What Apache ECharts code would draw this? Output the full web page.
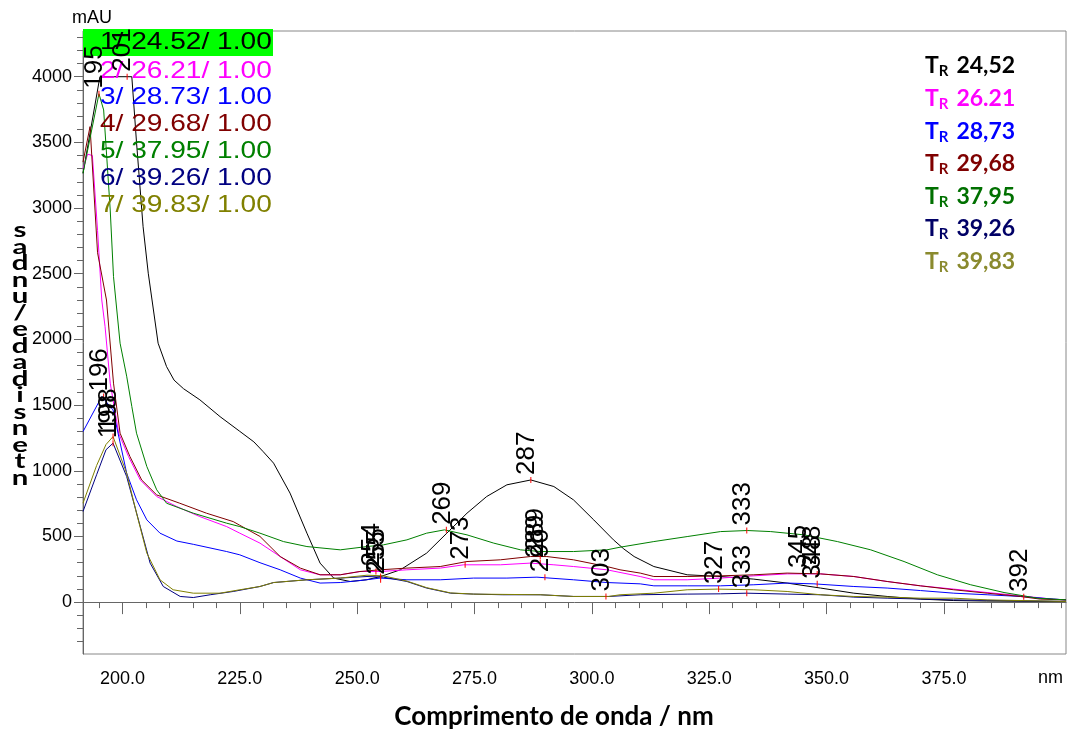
<!DOCTYPE html>
<html>
<head>
<meta charset="utf-8">
<script src="https://cdn.jsdelivr.net/npm/echarts@6/dist/echarts.min.js"></script>
<style>
  html, body { margin: 0; padding: 0; background: #fff; }
  #chart { width: 1067px; height: 729px; }
</style>
</head>
<body>
<div id="chart"></div>
<script>
// legenda e cores das corridas
const seriesNames = ['1/ 24.52/ 1.00', '2/ 26.21/ 1.00', '3/ 28.73/ 1.00', '4/ 29.68/ 1.00',
    '5/ 37.95/ 1.00', '6/ 39.26/ 1.00', '7/ 39.83/ 1.00'];
const seriesColors = ['#000000', '#ff00ff', '#0000ff', '#800000', '#008000', '#000080', '#808000'];
const retentionTimes = ['24,52', '26.21', '28,73', '29,68', '37,95', '39,26', '39,83'];
const rtColors = ['#000000', '#ff00ff', '#0000ff', '#7f0000', '#007000', '#000066', '#8a8a2e'];

const xTicks = [200, 225, 250, 275, 300, 325, 350, 375];
const xMinorTicks = [195, 200, 205, 210, 215, 220, 225, 230, 235, 240, 245, 250, 255, 260, 265, 270, 275, 280,
    285, 290, 295, 300, 305, 310, 315, 320, 325, 330, 335, 340, 345, 350, 355, 360, 365, 370, 375, 380,
    385, 390, 395, 400];
const yTicks = [0, 500, 1000, 1500, 2000, 2500, 3000, 3500, 4000];
const yMinorTicks = [-300, -200, -100, 0, 100, 200, 300, 400, 500, 600, 700, 800, 900, 1000, 1100, 1200, 1300,
    1400, 1500, 1600, 1700, 1800, 1900, 2000, 2100, 2200, 2300, 2400, 2500, 2600, 2700, 2800, 2900, 3000,
    3100, 3200, 3300, 3400, 3500, 3600, 3700, 3800, 3900, 4000, 4100, 4200, 4300];

// espectros [nm, mAU]
const spectrum1 = [[191.6, 3265], [195.2, 4000], [202, 4000], [203, 3500], [204.4, 2858], [205.5, 2504],
    [207.6, 1971], [209.4, 1793], [211, 1690], [213, 1625], [216.5, 1540], [220.8, 1412], [225, 1300],
    [228, 1220], [230, 1145], [232.2, 1058], [235.7, 830], [239.3, 525], [242.1, 297], [245, 183],
    [248.5, 157], [252, 170], [255, 195], [259.2, 246], [264.8, 373], [269.1, 525], [273.4, 677],
    [277.6, 804], [281.9, 893], [287, 930], [291.9, 880], [296.1, 778], [300.4, 626], [304.6, 474],
    [306.8, 405], [309, 347], [313.2, 271], [320.3, 208], [327.4, 195], [334.5, 175], [341.6, 145],
    [348.7, 107], [355.8, 68], [362.9, 43], [370, 23], [377, 12], [384, 8], [401, 5]];
const spectrum2 = [[191.6, 3300], [192.6, 3410], [193.6, 3400], [194.7, 2830], [195.6, 2300], [196.3, 2097],
    [197.4, 1667], [199.2, 1286], [201.3, 1108], [203.8, 930], [207.3, 804], [211.6, 727], [216.5, 651],
    [222.2, 575], [225, 525], [229.3, 449], [233.6, 347], [237.9, 246], [242.1, 208], [246.4, 208],
    [250.6, 233], [254.9, 233], [260.6, 246], [267.7, 259], [272.7, 284], [280.5, 284], [286.9, 297],
    [291.9, 284], [296.1, 271], [303.2, 246], [310.3, 195], [313.2, 170], [320.3, 170], [327.4, 183],
    [334.5, 200], [341.6, 215], [348.7, 215], [355.8, 195], [362.9, 157], [370, 124], [377.1, 99],
    [384.2, 73], [391.3, 48], [398, 23], [401, 17]];
const spectrum3 = [[191.6, 1298], [195.6, 1565], [198, 1463], [200.9, 982], [203, 779], [205.2, 626],
    [208, 525], [211.6, 465], [215.1, 440], [222.2, 385], [225, 360], [229.3, 300], [233.6, 246],
    [237.9, 183], [242.1, 145], [246.4, 149], [250.6, 164], [254.9, 183], [260.6, 170], [267.7, 170],
    [274.8, 183], [281.9, 183], [288.3, 190], [296.1, 170], [303.2, 149], [310.3, 139], [313.2, 124],
    [320.3, 124], [327.4, 124], [334.5, 132], [341.6, 145], [347.3, 139], [355.8, 119], [362.9, 107],
    [370, 88], [377.1, 68], [384.2, 56], [391.3, 43], [398.4, 23], [401, 17]];
const spectrum4 = [[191.6, 3350], [193.1, 3620], [194.7, 2660], [196.6, 2300], [198.1, 1667], [199.5, 1286],
    [201.6, 1108], [204.1, 930], [207.3, 816], [212.2, 753], [217.9, 677], [223.6, 613], [225, 585],
    [229.3, 500], [233.6, 347], [237.9, 259], [242.1, 208], [246.4, 208], [250.6, 233], [254.9, 246],
    [260.6, 259], [267.7, 271], [273.4, 309], [280.5, 322], [286.9, 347], [290.4, 347], [296.1, 322],
    [303.2, 271], [306, 246], [310.3, 221], [313.2, 195], [320.3, 195], [327.4, 200], [334.5, 208],
    [341.6, 221], [348.7, 215], [355.8, 195], [362.9, 157], [370, 124], [377.1, 94], [384.2, 68],
    [391.3, 43], [395.5, 23], [401, 17]];
const spectrum5 = [[191.6, 3265], [195, 3870], [196, 3747], [196.7, 3366], [197.4, 2985], [198.1, 2478],
    [199.5, 1971], [200.9, 1720], [202, 1489], [203, 1286], [205.2, 1032], [207.3, 855], [209.4, 753],
    [215.1, 677], [222.2, 601], [225, 575], [229.3, 525], [234.3, 461], [239.3, 423], [246.4, 398],
    [252.1, 423], [255.6, 436], [260.6, 474], [264.8, 525], [268.6, 550], [273.4, 512], [279.1, 449],
    [284.8, 398], [289, 385], [296.1, 385], [303.2, 398], [306, 418], [313.2, 461], [320.3, 499],
    [327.4, 537], [333.1, 545], [338.1, 537], [345.2, 512], [352.3, 461], [359.4, 398], [366.5, 309],
    [373.6, 208], [380.7, 132], [387.8, 73], [394.9, 30], [401, 17]];
const spectrum6 = [[191.6, 690], [194.5, 970], [196.5, 1160], [198, 1210], [200.9, 956], [203.8, 575],
    [205.9, 297], [208.7, 119], [212.3, 43], [215.1, 35], [218.7, 56], [223.6, 81], [229.3, 119],
    [232.2, 149], [239.3, 170], [246.4, 183], [252.1, 195], [255.6, 190], [260.6, 157], [264.8, 107],
    [269.9, 68], [274.8, 61], [281, 56], [289, 56], [296.1, 43], [303.6, 43], [310.3, 56], [320.3, 61],
    [327.4, 63], [333, 68], [341.6, 61], [348.7, 56], [355.8, 38], [362.9, 30], [377, 17], [401, 5]];
const spectrum7 = [[191.6, 753], [194.5, 1040], [196.5, 1200], [198, 1260], [200.9, 982], [203, 677],
    [205.2, 373], [208, 170], [210.8, 94], [215.1, 68], [220.8, 68], [225, 94], [229.3, 119], [232.2, 149],
    [239.3, 170], [246.4, 183], [252.1, 205], [255.6, 200], [260.6, 160], [264.8, 110], [269.9, 70],
    [274.8, 61], [289, 56], [296.1, 43], [303.6, 43], [306, 56], [313.2, 68], [320.3, 94], [326.8, 99],
    [334.5, 94], [341.6, 81], [348.7, 56], [355.8, 43], [362.9, 38], [370, 30], [377.1, 30], [384.2, 17],
    [401, 5]];
const spectra = [spectrum1, spectrum2, spectrum3, spectrum4, spectrum5, spectrum6, spectrum7];

// máximos marcados [nm, mAU, rótulo]
const peaks = [[195, 3870, '195'], [201, 4000, '201'], [196, 1565, '196'], [198, 1260, '198'],
    [198, 1210, '198'], [254, 233, '254'], [255, 195, '255'], [255, 170, '255'], [269, 550, '269'],
    [273, 284, '273'], [287, 930, '287'], [289, 347, '289'], [289, 297, '289'], [290, 190, '290'],
    [303, 43, '303'], [327, 99, '327'], [333, 545, '333'], [333, 68, '333'], [345, 221, '345'],
    [348, 215, '348'], [348, 139, '348'], [392, 40, '392']];

const yTitleChars = ['s', 'a', 'd', 'n', 'u', '/', 'e', 'd', 'a', 'd', 'i', 's', 'n', 'e', 't', 'n'];
const xTitle = 'Comprimento de onda / nm';

const X_MIN = 191.6, X_MAX = 401, Y_MIN = -395, Y_MAX = 4348;
const axisGrey = '#666';
const tickFont = { fontFamily: 'Liberation Sans', fontSize: 18, color: '#000' };

let series = spectra.map((data, i) => ({
    name: seriesNames[i],
    type: 'line',
    data: data,
    showSymbol: false,
    lineStyle: { width: 1, color: seriesColors[i] },
    itemStyle: { color: seriesColors[i] },
    z: 2
}));

series.push({
    type: 'scatter',
    data: peaks.map(p => ({ value: [p[0], p[1]], name: p[2] })),
    symbol: 'rect',
    symbolSize: [1, 6],
    itemStyle: { color: '#ff0000', opacity: 1 },
    label: {
        show: true,
        formatter: '{b}',
        position: 'top',
        distance: 2,
        rotate: 90,
        align: 'left',
        verticalAlign: 'middle',
        offset: [0, -4],
        fontFamily: 'Liberation Sans',
        fontSize: 26,
        color: '#000',
        opacity: 1,
        textBorderWidth: 0
    },
    z: 5
});

let graphics = [
    { type: 'rect', shape: { x: 83, y: 29, width: 190, height: 27 }, style: { fill: '#00ff00' }, z: 1 },
    { type: 'text', x: 72, y: 18, style: { text: 'mAU', font: '18px "Liberation Sans"', fill: '#000', textVerticalAlign: 'middle' }, z: 10 },
    { type: 'text', x: 1063, y: 678, style: { text: 'nm', font: '18px "Liberation Sans"', fill: '#000', textAlign: 'right', textVerticalAlign: 'middle' }, z: 10 },
    { type: 'text', x: 554, y: 717, style: { text: xTitle, font: 'bold 26px Lato', fill: '#000', textAlign: 'center', textVerticalAlign: 'middle' }, z: 10 },
    { type: 'text', x: 20, y: 222, scaleX: 1.4, style: { text: yTitleChars.join('\n'), font: 'bold 21px Lato', lineHeight: 16.5, fill: '#000', textAlign: 'center' }, z: 10 }
];
seriesNames.forEach((name, i) => {
    graphics.push({
        type: 'text', x: 100, y: i === 0 ? 42 : 71 + (i - 1) * 26.8, scaleX: 1.17,
        style: { text: name, font: '24px "Liberation Sans"', fill: seriesColors[i], textVerticalAlign: 'middle' },
        z: 3
    });
});
retentionTimes.forEach((rt, i) => {
    graphics.push({
        type: 'text', x: 925, y: 66 + i * 32.6,
        style: {
            text: '{t|T}{s|R}{g| }{n|' + rt + '}',
            textVerticalAlign: 'middle',
            rich: {
                t: { font: 'bold 23px Lato', fill: rtColors[i] },
                s: { font: 'bold 15px Lato', fill: rtColors[i], padding: [11, 0, 0, 0] },
                g: { font: 'bold 23px Lato', width: 8 },
                n: { font: 'bold 23px Lato', fill: rtColors[i] }
            }
        },
        z: 11
    });
});

const chart = echarts.init(document.getElementById('chart'));
chart.setOption({
    animation: false,
    backgroundColor: '#fff',
    grid: { left: 83, right: 1, top: 31, bottom: 75, show: true, borderColor: '#888', borderWidth: 1,
        containLabel: false, outerBoundsMode: 'none' },
    xAxis: [{
        type: 'value', min: X_MIN, max: X_MAX, position: 'bottom',
        axisLine: { lineStyle: { color: axisGrey } },
        axisTick: { customValues: xTicks, length: 12, lineStyle: { color: axisGrey } },
        axisLabel: Object.assign({ customValues: xTicks, margin: 16, formatter: v => v.toFixed(1) }, tickFont),
        splitLine: { show: false }
    }, {
        type: 'value', min: X_MIN, max: X_MAX, position: 'bottom',
        axisLine: { show: false },
        axisTick: { customValues: xMinorTicks, length: 6, lineStyle: { color: axisGrey } },
        axisLabel: { show: false },
        splitLine: { show: false }
    }],
    yAxis: [{
        type: 'value', min: Y_MIN, max: Y_MAX, position: 'left',
        axisLine: { show: true, lineStyle: { color: axisGrey } },
        axisTick: { show: true, customValues: yTicks, length: 9, lineStyle: { color: axisGrey } },
        axisLabel: Object.assign({ customValues: yTicks, margin: 11, formatter: v => String(v) }, tickFont),
        splitLine: { show: false }
    }, {
        type: 'value', min: Y_MIN, max: Y_MAX, position: 'left',
        axisLine: { show: false },
        axisTick: { show: true, customValues: yMinorTicks, length: 6, lineStyle: { color: axisGrey } },
        axisLabel: { show: false },
        splitLine: { show: false }
    }],
    series: series,
    graphic: graphics
});
</script>
</body>
</html>
